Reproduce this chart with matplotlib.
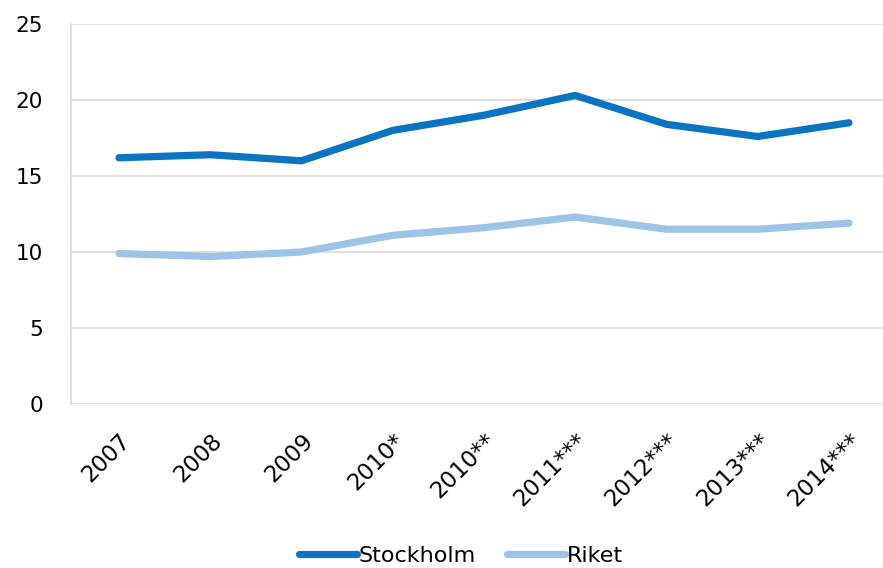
import matplotlib
matplotlib.use("Agg")
import matplotlib.pyplot as plt
from matplotlib.lines import Line2D

plt.rcParams.update({"font.family": ["DejaVu Sans"], "font.size": 15})

years = ["2007", "2008", "2009", "2010*", "2010**", "2011***", "2012***", "2013***", "2014***"]
stockholm = [16.2, 16.4, 16.0, 18.0, 19.0, 20.3, 18.4, 17.6, 18.5]
riket = [9.9, 9.7, 10.0, 11.1, 11.6, 12.3, 11.5, 11.5, 11.9]
C_STH = "#0A73C2"
C_RIK = "#9DC3E6"

W, H = 883, 568
fig = plt.figure(figsize=(W / 100, H / 100), dpi=100)
ax = fig.add_axes([71 / W, 1 - 404 / H, (883 - 71) / W, (404 - 24) / H])
x = range(len(years))
ax.plot(x, stockholm, color=C_STH, lw=5.2, solid_capstyle="round", solid_joinstyle="round", zorder=3)
ax.plot(x, riket, color=C_RIK, lw=5.2, solid_capstyle="round", solid_joinstyle="round", zorder=3)

ax.set_ylim(0, 25)
ax.set_yticks(range(0, 26, 5))
ax.set_xlim(-0.526, 8.373)
ax.set_xticks(list(x))
ax.set_xticklabels(years, rotation=45, ha="right", va="top", rotation_mode="anchor", fontsize=16.5)
ax.tick_params(axis="x", length=0, pad=18)
ax.tick_params(axis="y", length=0, pad=20, labelsize=15.5)
ax.grid(axis="y", color="#D9D9D9", lw=1.2)
ax.set_axisbelow(True)
for s in ["top", "right", "bottom"]:
    ax.spines[s].set_visible(False)
ax.spines["left"].set_color("#D9D9D9")
ax.spines["left"].set_linewidth(1.2)

handles = [Line2D([], [], color=C_STH, lw=5.2, solid_capstyle="round"),
           Line2D([], [], color=C_RIK, lw=5.2, solid_capstyle="round")]
fig.legend(handles, ["Stockholm", "Riket"], loc="center", bbox_to_anchor=(461 / W, 1 - 556 / H),
           ncol=2, frameon=False, handlelength=2.6, handletextpad=0.1, columnspacing=1.4, fontsize=16)

fig.savefig("out.png", dpi=100)
